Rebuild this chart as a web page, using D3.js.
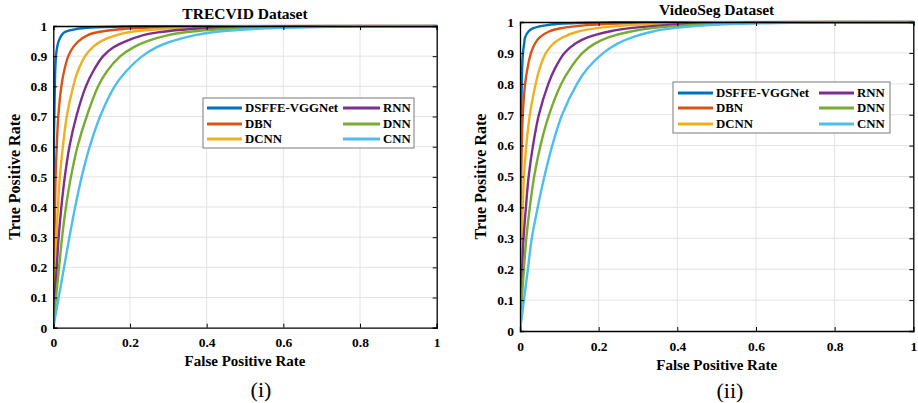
<!DOCTYPE html>
<html>
<head>
<meta charset="utf-8">
<script src="https://cdn.jsdelivr.net/npm/d3@7"></script>
<style>
html,body{margin:0;padding:0;background:#fff;}
svg{display:block;}
text{font-family:"Liberation Serif","Times New Roman",serif;}
</style>
</head>
<body>
<svg id="c" width="918" height="403"></svg>
<script>
// ---- data ----
const seriesNames = ["DSFFE-VGGNet","DBN","DCNN","RNN","DNN","CNN"];
const seriesColors = ["#0072BD","#D95319","#EDB120","#7E2F8E","#77AC30","#4DBEEE"];
const xTicks = [0,0.2,0.4,0.6,0.8,1];
const yTicks = [0,0.1,0.2,0.3,0.4,0.5,0.6,0.7,0.8,0.9,1];

// TRECVID, points as [FPR, TPR]
const trecDSFFE = [[0,0],[0.0005,0.3],[0.0015,0.6],[0.004,0.8],[0.005,0.85],[0.007,0.9],[0.01,0.93],[0.014,0.95],[0.022,0.97],[0.03,0.98],[0.06,0.99],[0.1,0.995],[0.22,0.999],[1,1]];
const trecDBN   = [[0,0],[0.001,0.1],[0.002,0.2],[0.003,0.3],[0.0045,0.4],[0.006,0.5],[0.009,0.6],[0.013,0.7],[0.021,0.8],[0.028,0.85],[0.039,0.9],[0.052,0.93],[0.066,0.95],[0.09,0.97],[0.118,0.98],[0.18,0.99],[0.26,0.995],[0.45,0.999],[1,1]];
const trecDCNN  = [[0,0],[0.002,0.1],[0.005,0.2],[0.008,0.3],[0.012,0.4],[0.017,0.5],[0.025,0.6],[0.035,0.7],[0.052,0.8],[0.064,0.85],[0.083,0.9],[0.103,0.93],[0.125,0.95],[0.165,0.97],[0.2,0.98],[0.28,0.99],[0.37,0.995],[0.55,0.999],[1,1]];
const trecRNN   = [[0,0],[0.004,0.1],[0.009,0.2],[0.014,0.3],[0.021,0.4],[0.03,0.5],[0.042,0.6],[0.06,0.7],[0.085,0.8],[0.104,0.85],[0.13,0.9],[0.158,0.93],[0.19,0.95],[0.235,0.97],[0.28,0.98],[0.36,0.99],[0.46,0.995],[0.65,0.999],[1,1]];
const trecDNN   = [[0,0],[0.007,0.1],[0.015,0.2],[0.023,0.3],[0.033,0.4],[0.046,0.5],[0.063,0.6],[0.087,0.7],[0.117,0.8],[0.14,0.85],[0.175,0.9],[0.21,0.93],[0.245,0.95],[0.3,0.97],[0.35,0.98],[0.44,0.99],[0.55,0.995],[0.75,0.999],[1,1]];
const trecCNN   = [[0,0],[0.014,0.1],[0.028,0.2],[0.042,0.3],[0.057,0.4],[0.074,0.5],[0.095,0.6],[0.122,0.7],[0.16,0.8],[0.19,0.85],[0.232,0.9],[0.27,0.93],[0.31,0.95],[0.37,0.97],[0.42,0.98],[0.52,0.99],[0.63,0.995],[0.82,0.999],[1,1]];

// VideoSeg, points as [FPR, TPR]
const vsDSFFE = [[0,0],[0.0005,0.3],[0.0018,0.6],[0.0045,0.8],[0.0055,0.85],[0.0075,0.9],[0.0105,0.93],[0.013,0.95],[0.022,0.97],[0.034,0.98],[0.07,0.99],[0.11,0.995],[0.24,0.999],[1,1]];
const vsDBN   = [[0,0],[0.0004,0.1],[0.0008,0.2],[0.0013,0.3],[0.002,0.4],[0.003,0.5],[0.0045,0.6],[0.007,0.7],[0.013,0.8],[0.019,0.85],[0.028,0.9],[0.038,0.93],[0.05,0.95],[0.075,0.97],[0.105,0.98],[0.17,0.99],[0.25,0.995],[0.45,0.999],[1,1]];
const vsDCNN  = [[0,0],[0.0012,0.1],[0.0027,0.2],[0.0045,0.3],[0.007,0.4],[0.01,0.5],[0.016,0.6],[0.025,0.7],[0.04,0.8],[0.05,0.85],[0.066,0.9],[0.085,0.93],[0.108,0.95],[0.15,0.97],[0.195,0.98],[0.28,0.99],[0.37,0.995],[0.55,0.999],[1,1]];
const vsRNN   = [[0,0],[0.0025,0.1],[0.0055,0.2],[0.009,0.3],[0.015,0.4],[0.022,0.5],[0.033,0.6],[0.048,0.7],[0.072,0.8],[0.089,0.85],[0.113,0.9],[0.14,0.93],[0.172,0.95],[0.23,0.97],[0.28,0.98],[0.37,0.99],[0.47,0.995],[0.65,0.999],[1,1]];
const vsDNN   = [[0,0],[0.0045,0.1],[0.01,0.2],[0.016,0.3],[0.025,0.4],[0.036,0.5],[0.052,0.6],[0.074,0.7],[0.105,0.8],[0.128,0.85],[0.159,0.9],[0.19,0.93],[0.225,0.95],[0.285,0.97],[0.335,0.98],[0.43,0.99],[0.53,0.995],[0.72,0.999],[1,1]];
const vsCNN   = [[0,0],[0.01,0.1],[0.02,0.2],[0.03,0.3],[0.045,0.4],[0.062,0.5],[0.082,0.6],[0.107,0.7],[0.145,0.8],[0.172,0.85],[0.212,0.9],[0.248,0.93],[0.285,0.95],[0.34,0.97],[0.39,0.98],[0.48,0.99],[0.58,0.995],[0.78,0.999],[1,1]];

const panels = [
  {title:"TRECVID Dataset", caption:"(i)", series:[trecDSFFE,trecDBN,trecDCNN,trecRNN,trecDNN,trecCNN],
   left:53.3, right:436.7, top:26, bottom:327.7, titleY:19, xlabY:366, capX:261, capY:397, ylabX:14,
   leg:{x:203, y:98, w:211, h:50, rows:[108,124,139], c1:[207,242,245], c2:[343,380,383]}},
  {title:"VideoSeg Dataset", caption:"(ii)", series:[vsDSFFE,vsDBN,vsDCNN,vsRNN,vsDNN,vsCNN],
   left:520, right:913.3, top:22, bottom:331, titleY:15, xlabY:370, capX:730, capY:398, ylabX:480,
   leg:{x:673, y:82, w:217, h:51, rows:[93,108,124], c1:[678,713,716], c2:[819,854,857]}}
];

const svg = d3.select("#c");

panels.forEach((p,pi)=>{
  const x = d3.scaleLinear().domain([0,1]).range([p.left,p.right]);
  const y = d3.scaleLinear().domain([0,1]).range([p.bottom,p.top]);
  const g = svg.append("g");

  // grid
  g.append("g").selectAll("line").data(xTicks.slice(1,-1)).join("line")
    .attr("x1",d=>x(d)).attr("x2",d=>x(d)).attr("y1",p.top).attr("y2",p.bottom)
    .attr("stroke","#e3e3e3").attr("stroke-width",1);
  g.append("g").selectAll("line").data(yTicks.slice(1,-1)).join("line")
    .attr("y1",d=>y(d)).attr("y2",d=>y(d)).attr("x1",p.left).attr("x2",p.right)
    .attr("stroke","#e3e3e3").attr("stroke-width",1);

  // curves
  const clipId = "clip"+pi;
  svg.append("clipPath").attr("id",clipId).append("rect")
    .attr("x",p.left).attr("y",p.top-1.5).attr("width",p.right-p.left+2).attr("height",p.bottom-p.top+1.5);
  const line = d3.line().x(d=>x(d[0])).y(d=>y(d[1])).curve(d3.curveCatmullRom.alpha(0.5));
  g.append("g").attr("clip-path",`url(#${clipId})`).selectAll("path").data(p.series).join("path")
    .attr("d",line).attr("fill","none")
    .attr("stroke",(d,i)=>seriesColors[i]).attr("stroke-width",2.4)
    .attr("stroke-linejoin","round").attr("stroke-linecap","round");

  // axes (inward ticks, box)
  const tl = 4;
  const fmt = d=> d===0? "0" : d===1? "1" : d3.format(".1f")(d);
  const xb = g.append("g").attr("transform",`translate(0,${p.bottom})`)
    .call(d3.axisBottom(x).tickValues(xTicks).tickSize(-tl).tickPadding(10).tickFormat(fmt));
  const xt = g.append("g").attr("transform",`translate(0,${p.top})`)
    .call(d3.axisTop(x).tickValues(xTicks).tickSize(-tl).tickFormat(""));
  const yl = g.append("g").attr("transform",`translate(${p.left},0)`)
    .call(d3.axisLeft(y).tickValues(yTicks).tickSize(-tl).tickPadding(6).tickFormat(fmt));
  const yr = g.append("g").attr("transform",`translate(${p.right},0)`)
    .call(d3.axisRight(y).tickValues(yTicks).tickSize(-tl).tickFormat(""));
  [xb,xt,yl,yr].forEach(a=>{
    a.select(".domain").attr("stroke","#000").attr("stroke-width",1.3);
    a.selectAll(".tick line").attr("stroke","#000").attr("stroke-width",1);
    a.selectAll("text").attr("font-family","Liberation Serif").attr("font-weight","bold")
      .attr("font-size",13.5).attr("fill","#000");
  });

  // title & labels
  g.append("text").attr("x",(p.left+p.right)/2).attr("y",p.titleY).attr("text-anchor","middle")
    .attr("font-weight","bold").attr("font-size",15.5).text(p.title);
  g.append("text").attr("x",(p.left+p.right)/2).attr("y",p.xlabY).attr("text-anchor","middle")
    .attr("font-weight","bold").attr("font-size",15).text("False Positive Rate");
  g.append("text").attr("transform",`translate(${p.ylabX},${(p.top+p.bottom)/2}) rotate(-90)`)
    .attr("text-anchor","middle").attr("dominant-baseline","central")
    .attr("font-weight","bold").attr("font-size",16).text("True Positive Rate");
  g.append("text").attr("x",p.capX).attr("y",p.capY).attr("text-anchor","middle")
    .attr("font-size",22).text(p.caption);

  // legend
  const L = p.leg;
  g.append("rect").attr("x",L.x).attr("y",L.y).attr("width",L.w).attr("height",L.h)
    .attr("fill","#fff").attr("stroke","#7a7a7a").attr("stroke-width",1);
  seriesNames.forEach((name,i)=>{
    const col = i<3 ? L.c1 : L.c2;
    const ry = L.rows[i%3];
    g.append("line").attr("x1",col[0]).attr("x2",col[1]).attr("y1",ry).attr("y2",ry)
      .attr("stroke",seriesColors[i]).attr("stroke-width",2.8);
    g.append("text").attr("x",col[2]).attr("y",ry).attr("dominant-baseline","central")
      .attr("font-weight","bold").attr("font-size",12.8).text(name);
  });
});
</script>
</body>
</html>
